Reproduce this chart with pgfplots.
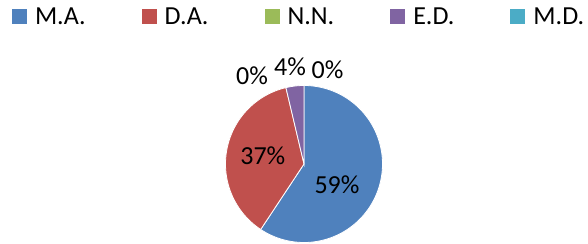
\documentclass[border=0pt]{standalone}
\usepackage{fontspec}
\setmainfont{Carlito}
\usepackage{pgfplots}
\usepackage{pgfplotstable}
\pgfplotsset{compat=1.18}
\definecolor{cA}{HTML}{4F81BD}
\definecolor{cB}{HTML}{C0504D}
\definecolor{cC}{HTML}{9BBB59}
\definecolor{cD}{HTML}{8064A2}
\definecolor{cE}{HTML}{4BACC6}
\pgfplotstableread{
name value
M.A. 59.3
D.A. 37.0
N.N. 0
E.D. 3.7
M.D. 0
}\piedata
\newcommand{\bigf}{\fontsize{26bp}{31bp}\selectfont}
\begin{document}
\begin{tikzpicture}
\pgfplotstablegetelem{0}{value}\of\piedata \let\vA\pgfplotsretval
\pgfplotstablegetelem{1}{value}\of\piedata \let\vB\pgfplotsretval
\pgfplotstablegetelem{2}{value}\of\piedata \let\vC\pgfplotsretval
\pgfplotstablegetelem{3}{value}\of\piedata \let\vD\pgfplotsretval
\pgfplotstablegetelem{4}{value}\of\piedata \let\vE\pgfplotsretval
\pgfmathsetmacro{\aA}{90}
\pgfmathsetmacro{\aB}{\aA-3.6*\vA}
\pgfmathsetmacro{\aC}{\aB-3.6*\vB}
\pgfmathsetmacro{\aD}{\aC-3.6*\vC}
\pgfmathsetmacro{\aE}{\aD-3.6*\vD}
\begin{axis}[at={(0,0)}, anchor=south west, scale only axis,
  width=588bp, height=244bp, xmin=0, xmax=588, ymin=0, ymax=244,
  hide axis, clip=false,
  legend columns=5,
  legend image code/.code={\fill[#1] (0bp,0bp) rectangle (15bp,15bp);},
  legend style={draw=none, fill=none, inner sep=0pt, outer sep=0pt,
    at={(axis cs:12,218.5)}, anchor=south west, font=\bigf,
    nodes={inner sep=0pt, anchor=base west},
    /tikz/every odd column/.append style={column sep=8bp},
    /tikz/every even column/.append style={column sep=56bp}},
]
\addlegendimage{fill=cA, draw=none}\addlegendentry{M.A.}
\addlegendimage{fill=cB, draw=none}\addlegendentry{D.A.}
\addlegendimage{fill=cC, draw=none}\addlegendentry{N.N.}
\addlegendimage{fill=cD, draw=none}\addlegendentry{E.D.}
\addlegendimage{fill=cE, draw=none}\addlegendentry{M.D.}
\addplot[fill=cA, draw=white, line width=0.8pt, domain=\aB:\aA, samples=90, variable=\t, forget plot]
  ({304+78.5*cos(\t)},{80+78.5*sin(\t)}) -- (axis cs:304,80) -- cycle;
\addplot[fill=cB, draw=white, line width=0.8pt, domain=\aC:\aB, samples=60, variable=\t, forget plot]
  ({304+78.5*cos(\t)},{80+78.5*sin(\t)}) -- (axis cs:304,80) -- cycle;
\addplot[fill=cD, draw=white, line width=0.8pt, domain=\aE:\aD, samples=10, variable=\t, forget plot]
  ({304+78.5*cos(\t)},{80+78.5*sin(\t)}) -- (axis cs:304,80) -- cycle;
\node[inner sep=0pt, font=\bigf] at (axis cs:337,59.3) {59\%};
\node[inner sep=0pt, font=\bigf] at (axis cs:262.8,88.2) {37\%};
\node[inner sep=0pt, font=\bigf] at (axis cs:252,168) {0\%};
\node[inner sep=0pt, font=\bigf] at (axis cs:290,177.3) {4\%};
\node[inner sep=0pt, font=\bigf] at (axis cs:327.5,174) {0\%};
\end{axis}
\pgfresetboundingbox
\useasboundingbox (0,0) rectangle (588bp,244bp);
\end{tikzpicture}
\end{document}
